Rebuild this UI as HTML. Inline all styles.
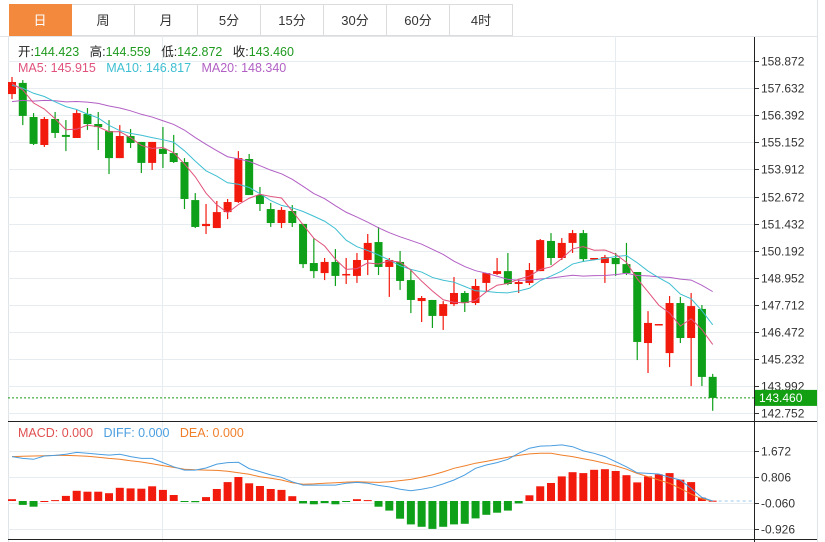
<!DOCTYPE html>
<html><head><meta charset="utf-8">
<style>
body{margin:0;background:#fff;font-family:"Liberation Sans","Noto Sans CJK SC",sans-serif;}
#wrap{position:relative;width:825px;height:542px;overflow:hidden;background:#fff;}
.tab{position:absolute;top:4px;height:32px;width:63px;border:1px solid #dcdcdc;border-left:none;box-sizing:border-box;text-align:center;line-height:31px;font-size:13px;color:#333;background:#fff;}
.tab.on{background:#f2893c;color:#fff;border-color:#f2893c;}
</style></head><body>
<div id="wrap">
<div class="tab on" style="left:9px">日</div>
<div class="tab" style="left:72px">周</div>
<div class="tab" style="left:135px">月</div>
<div class="tab" style="left:198px">5分</div>
<div class="tab" style="left:261px">15分</div>
<div class="tab" style="left:324px">30分</div>
<div class="tab" style="left:387px">60分</div>
<div class="tab" style="left:450px">4时</div>
<svg id="chart" width="825" height="542" style="position:absolute;left:0;top:0"></svg>
</div>
<script>
const opens=[157.36,157.87,156.31,155.03,156.22,155.49,155.35,156.45,155.99,155.67,154.43,155.44,155.17,154.21,154.85,154.66,154.25,152.51,151.32,151.23,151.96,152.42,154.39,152.74,152.10,151.46,152.01,151.42,149.63,149.17,149.68,149.08,149.04,149.77,150.59,149.45,149.68,148.85,147.89,147.94,147.21,147.75,148.26,147.80,148.72,149.13,149.26,148.67,148.72,149.26,150.64,149.86,150.55,151.00,149.81,149.63,149.86,149.58,149.22,145.97,146.84,145.51,147.80,146.20,147.53,144.423];
const highs=[158.14,158.00,156.49,156.31,156.54,156.17,156.63,156.72,156.54,156.17,155.94,155.76,155.17,155.17,155.85,155.49,154.43,152.83,152.33,152.47,152.56,154.75,154.62,153.11,152.38,152.19,152.28,151.42,150.77,149.86,150.27,149.86,150.09,150.96,151.28,149.86,150.18,149.31,148.12,147.94,147.89,148.99,148.35,148.90,148.94,149.86,150.09,148.85,149.63,150.73,151.00,150.77,151.14,151.14,149.86,150.00,150.09,150.55,149.22,147.43,146.84,148.12,148.08,148.26,147.71,144.559];
const lows=[157.13,155.94,155.03,154.94,155.35,154.75,155.35,155.72,154.80,153.70,154.43,154.89,153.75,153.89,153.98,154.21,152.10,151.23,150.96,151.23,151.64,152.38,152.74,152.01,151.28,151.23,151.28,149.40,148.94,148.85,148.58,148.67,148.72,149.08,149.08,148.08,148.40,147.34,146.93,146.66,146.57,147.66,147.39,147.71,148.30,149.08,148.62,148.26,148.62,149.26,149.54,149.77,150.09,149.68,149.81,148.72,149.04,149.08,145.19,144.60,146.84,144.87,145.97,144.00,144.00,142.872];
const closes=[157.91,156.36,155.08,156.22,155.58,155.40,156.49,155.99,155.85,154.43,155.44,155.12,154.21,155.17,154.62,154.25,152.56,151.28,151.42,151.96,152.42,154.43,152.74,152.33,151.46,152.06,151.46,149.58,149.26,149.68,149.04,149.13,149.77,150.55,149.45,149.77,148.81,147.94,148.03,147.21,147.75,148.26,147.80,148.58,149.17,149.26,148.67,148.76,149.31,150.68,149.86,150.55,151.00,149.81,149.86,149.90,149.58,149.17,146.02,146.89,146.84,147.80,146.20,147.66,144.42,143.460];
const prevCloses=[155.3,155.7,155.5,156.0,156.4,156.1,156.6,157.0,156.8,157.3,157.7,157.4,157.7,158.0,157.6,157.8,158.1,157.6,157.8];
const priceTicks=[158.872,157.632,156.392,155.152,153.912,152.672,151.432,150.192,148.952,147.712,146.472,145.232,143.992,142.752];
const macdHist=[0.06,-0.13,-0.19,0.0,0.03,0.17,0.34,0.31,0.31,0.26,0.44,0.42,0.41,0.49,0.37,0.20,-0.01,-0.04,0.13,0.40,0.63,0.80,0.59,0.50,0.40,0.37,0.16,-0.08,-0.11,-0.07,-0.11,-0.03,0.06,0.03,-0.19,-0.32,-0.59,-0.78,-0.86,-0.93,-0.86,-0.78,-0.76,-0.58,-0.46,-0.39,-0.32,-0.08,0.19,0.49,0.60,0.82,0.96,0.93,1.04,1.06,1.00,0.86,0.62,0.82,0.89,0.93,0.71,0.63,0.11,0.01];
const diffLine=[1.48,1.42,1.39,1.50,1.52,1.56,1.62,1.59,1.56,1.53,1.56,1.48,1.42,1.42,1.28,1.14,1.03,1.03,1.10,1.23,1.28,1.29,1.08,0.98,0.87,0.79,0.64,0.53,0.53,0.53,0.53,0.59,0.62,0.59,0.52,0.47,0.39,0.34,0.39,0.46,0.57,0.70,0.87,1.09,1.20,1.28,1.39,1.59,1.76,1.83,1.84,1.87,1.81,1.67,1.59,1.48,1.31,1.14,0.94,0.92,0.90,0.79,0.70,0.42,0.12,0.00];
const deaLine=[1.48,1.49,1.50,1.51,1.52,1.52,1.51,1.49,1.46,1.42,1.39,1.34,1.30,1.24,1.18,1.12,1.06,1.04,1.03,1.02,0.99,0.94,0.89,0.81,0.76,0.70,0.61,0.56,0.57,0.59,0.61,0.63,0.64,0.63,0.62,0.64,0.68,0.72,0.79,0.87,0.97,1.09,1.17,1.26,1.32,1.39,1.46,1.52,1.57,1.59,1.59,1.53,1.48,1.41,1.34,1.26,1.17,1.06,0.92,0.81,0.70,0.59,0.42,0.23,0.07,0.00];
const macdTicks=[1.672,0.806,-0.060,-0.926];

const NS='http://www.w3.org/2000/svg';
const svg=document.getElementById('chart');
function mk(tag,attrs,parent){const e=document.createElementNS(NS,tag);for(const k in attrs)e.setAttribute(k,attrs[k]);(parent||svg).appendChild(e);return e;}
const RED='#f2190d',GREEN='#0fa019';
const xOf=i=>12+i*10.78;
const yP=p=>61+(158.872-p)*21.86;
const yM=v=>501-v*30;

let e;
e=mk('line',{x1:0,y1:36.5,x2:817,y2:36.5,stroke:'#e2e6ea'});


e=mk('line',{x1:8.5,y1:36,x2:8.5,y2:542,stroke:'#dfe4e8'});


e=mk('line',{x1:817.5,y1:0,x2:817.5,y2:542,stroke:'#dfe4e8'});


[162.5,615.5].forEach(x=>{
  const g=mk('line',{x1:x,y1:36,x2:x,y2:542,stroke:'#e6ecef'});
  
  
});
priceTicks.forEach(t=>{
  const y=Math.round(yP(t))+0.5;
  const g=mk('line',{x1:8,y1:y,x2:754,y2:y,stroke:'#e6ecef'});
  
  
  mk('line',{x1:754,y1:y,x2:759,y2:y,stroke:'#333'});
  const tx=mk('text',{x:761,y:y+4,'font-size':12,fill:'#333','font-family':'Liberation Sans, sans-serif'});
  tx.textContent=t.toFixed(3);
  
  
});
macdTicks.forEach(t=>{
  const y=Math.round(yM(t))+0.5;
  const g=mk('line',{x1:8,y1:y,x2:754,y2:y,stroke:'#e6ecef'});
  
  
  mk('line',{x1:754,y1:y,x2:759,y2:y,stroke:'#333'});
  const tx=mk('text',{x:761,y:y+4,'font-size':12,fill:'#333','font-family':'Liberation Sans, sans-serif'});
  tx.textContent=t.toFixed(3);
  
  
});
e=mk('line',{x1:754.5,y1:37,x2:754.5,y2:542,stroke:'#222'});


e=mk('line',{x1:8,y1:421.5,x2:817,y2:421.5,stroke:'#222'});


e=mk('line',{x1:8,y1:539.5,x2:817,y2:539.5,stroke:'#222'});



for(let i=0;i<closes.length;i++){
  const x=xOf(i),up=closes[i]>=opens[i],c=up?RED:GREEN;
  const w=mk('line',{x1:x,y1:yP(highs[i]),x2:x,y2:yP(lows[i]),stroke:c,'stroke-width':1.2});
  
  
  const top=yP(Math.max(opens[i],closes[i])),bot=yP(Math.min(opens[i],closes[i]));
  const b=mk('rect',{x:x-4,y:top,width:8,height:Math.max(1.5,bot-top),fill:c});
  
  
}
const all=prevCloses.concat(closes);
function ma(n){const out=[];for(let i=0;i<closes.length;i++){const k=i+prevCloses.length;let s=0;for(let j=k-n+1;j<=k;j++)s+=all[j];out.push(s/n);}return out;}
[[20,'#b25fc4','ma20-line'],[10,'#3fbfd2','ma10-line'],[5,'#e0527c','ma5-line']].forEach(([n,col,name])=>{
  const v=ma(n);
  const p=mk('polyline',{points:v.map((m,i)=>xOf(i)+','+yP(m)).join(' '),fill:'none',stroke:col,'stroke-width':1});
  
  
});
const ly=yP(closes[closes.length-1]);
e=mk('line',{x1:8,y1:ly,x2:754,y2:ly,stroke:'#1a9a1a','stroke-dasharray':'2,2'});


e=mk('rect',{x:755,y:ly-8,width:62,height:16,fill:'#12a012'});


e=mk('text',{x:759,y:ly+4,'font-size':12,fill:'#fff','font-family':'Liberation Sans, sans-serif'});
e.textContent=closes[closes.length-1].toFixed(3);



e=mk('line',{x1:xOf(closes.length-1),y1:yM(0),x2:754,y2:yM(0),stroke:'#9cc8ea','stroke-dasharray':'3,3'});


for(let i=0;i<macdHist.length;i++){
  const v=macdHist[i],y0=yM(0),y1=yM(v);
  const r=mk('rect',{x:xOf(i)-4,y:Math.min(y0,y1),width:8,height:Math.max(1,Math.abs(y1-y0)),fill:v>=0?RED:GREEN});
  
  
}
e=mk('polyline',{points:deaLine.map((v,i)=>xOf(i)+','+yM(v)).join(' '),fill:'none',stroke:'#f07f2a','stroke-width':1});


e=mk('polyline',{points:diffLine.map((v,i)=>xOf(i)+','+yM(v)).join(' '),fill:'none',stroke:'#4a9ee0','stroke-width':1});



function txt(x,y,parts,name){const t=mk('text',{x:x,y:y,'font-size':12.5,'font-family':'Liberation Sans, Noto Sans CJK SC, sans-serif'});
  
  
  t.style.whiteSpace='pre';
  parts.forEach(([s,c])=>{const sp=mk('tspan',{fill:c},t);sp.textContent=s;});}
txt(18,56,[['开:','#222'],['144.423   ','#1f9a1f'],['高:','#222'],['144.559   ','#1f9a1f'],['低:','#222'],['142.872   ','#1f9a1f'],['收:','#222'],['143.460','#1f9a1f']],'ohlc-info');
txt(18,72,[['MA5: 145.915   ','#e0527c'],['MA10: 146.817   ','#3fbfd2'],['MA20: 148.340','#b25fc4']],'ma-legend');
txt(18,437,[['MACD: 0.000   ','#e05050'],['DIFF: 0.000   ','#4a9ee0'],['DEA: 0.000','#f07f2a']],'macd-legend');
</script>
</body></html>
